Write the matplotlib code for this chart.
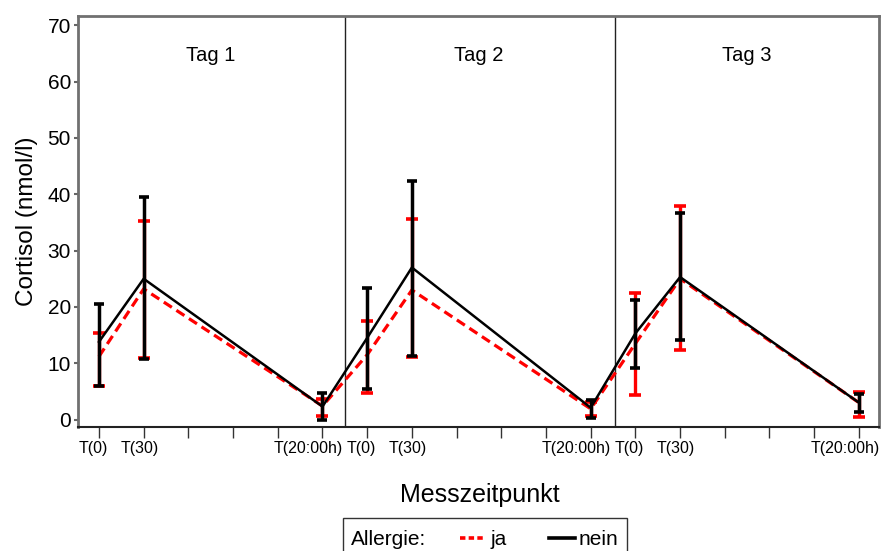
import matplotlib
matplotlib.use("Agg")
from matplotlib import pyplot as plt
from matplotlib.patches import Rectangle
from matplotlib.lines import Line2D
from matplotlib.transforms import ScaledTranslation

plt.rcParams['font.family'] = ['Liberation Sans', 'DejaVu Sans']

# Messzeitpunkte, drei Tage hintereinander
x_pos = [0, 1, 5, 6, 7, 11, 12, 13, 17]
tick_pos = list(range(18))
tick_names = ["T(0)", "T(30)", "", "", "", "T(20:00h)"] * 3
days = ["Tag 1", "Tag 2", "Tag 3"]
day_centers = [2.5, 8.5, 14.5]
day_borders = [5.5, 11.55]

# Allergie = ja
ja_mean = [11.2, 23.2, 2.4, 11.5, 23.0, 1.9, 13.5, 25.0, 3.0]
ja_lo = [6.0, 11.0, 0.7, 4.8, 11.1, 0.6, 4.4, 12.3, 0.5]
ja_hi = [15.4, 35.3, 3.6, 17.5, 35.6, 3.2, 22.4, 38.0, 4.9]

# Allergie = nein
nein_mean = [13.8, 25.0, 2.3, 14.5, 27.0, 2.1, 15.3, 25.3, 3.0]
nein_lo = [5.9, 10.7, 0.0, 5.4, 11.3, 0.2, 9.2, 14.2, 1.3]
nein_hi = [20.6, 39.6, 4.65, 23.4, 42.4, 3.5, 21.3, 36.6, 4.5]

fig = plt.figure(figsize=(8.82, 5.51), dpi=100)
ax = fig.add_axes([0.0884, 0.225, 0.9082, 0.746])

ja_err = [[m - l for m, l in zip(ja_mean, ja_lo)], [h - m for m, h in zip(ja_mean, ja_hi)]]
nein_err = [[m - l for m, l in zip(nein_mean, nein_lo)], [h - m for m, h in zip(nein_mean, nein_hi)]]

ax.errorbar(x_pos, ja_mean, yerr=ja_err, fmt='none', ecolor='red', elinewidth=2.4,
            capsize=4.3, capthick=2.6, zorder=2)
ja_line, = ax.plot(x_pos, ja_mean, color='red', lw=2.3, linestyle=(0, (3.0, 1.7)), zorder=3)
ax.errorbar(x_pos, nein_mean, yerr=nein_err, fmt='none', ecolor='black', elinewidth=2.5,
            capsize=3.9, capthick=2.6, zorder=4)
nein_line, = ax.plot(x_pos, nein_mean, color='black', lw=1.8, zorder=5)

for b in day_borders:
    ax.axvline(b, color='#222222', lw=1.0, zorder=1)
for c, d in zip(day_centers, days):
    ax.text(c, 64.7, d, ha='center', va='center', fontsize=14.5)

ax.set_xlim(-0.47, 17.45)
ax.set_ylim(-1.33, 71.67)
ax.set_yticks([0, 10, 20, 30, 40, 50, 60, 70])
ax.set_xticks(tick_pos)
ax.set_xticklabels(tick_names)

ax.tick_params(axis='y', labelsize=15, length=3, width=1.5, color='#666666', pad=2)
ax.tick_params(axis='x', labelsize=11.5, length=8, width=1.0, color='#333333', pad=2)

# Beschriftungen etwas nach links versetzt
shifts = {"T(0)": -6, "T(30)": -4, "T(20:00h)": -14}
for lab in ax.get_xticklabels():
    dx = shifts.get(lab.get_text(), 0)
    lab.set_transform(lab.get_transform() + ScaledTranslation(dx / 100, 0, fig.dpi_scale_trans))

for s in ['left', 'top', 'right']:
    ax.spines[s].set_color('#707070')
    ax.spines[s].set_linewidth(2.0)
ax.spines['bottom'].set_color('#222222')
ax.spines['bottom'].set_linewidth(1.5)

ax.set_ylabel("Cortisol (nmol/l)", fontsize=17.5, labelpad=7)
fig.text(0.544, 0.102, "Messzeitpunkt", ha='center', va='center', fontsize=18)

# Legende unten
fig.add_artist(Rectangle((0.389, -0.05), 0.322, 0.110, transform=fig.transFigure,
                         facecolor='white', edgecolor='#333333', lw=1.0))
fig.text(0.398, 0.020, "Allergie:", ha='left', va='center', fontsize=15)
fig.legend([Line2D([], [], color='red', lw=2.6, linestyle=(0, (1.5, 0.9))),
            Line2D([], [], color='black', lw=2.6)],
           ["ja", "nein"], ncol=2, loc='center left', bbox_to_anchor=(0.522, 0.020),
           frameon=False, fontsize=15, handlelength=1.25, handletextpad=0.2,
           columnspacing=2.0, borderpad=0, borderaxespad=0)

fig.savefig("out.png", dpi=100)
